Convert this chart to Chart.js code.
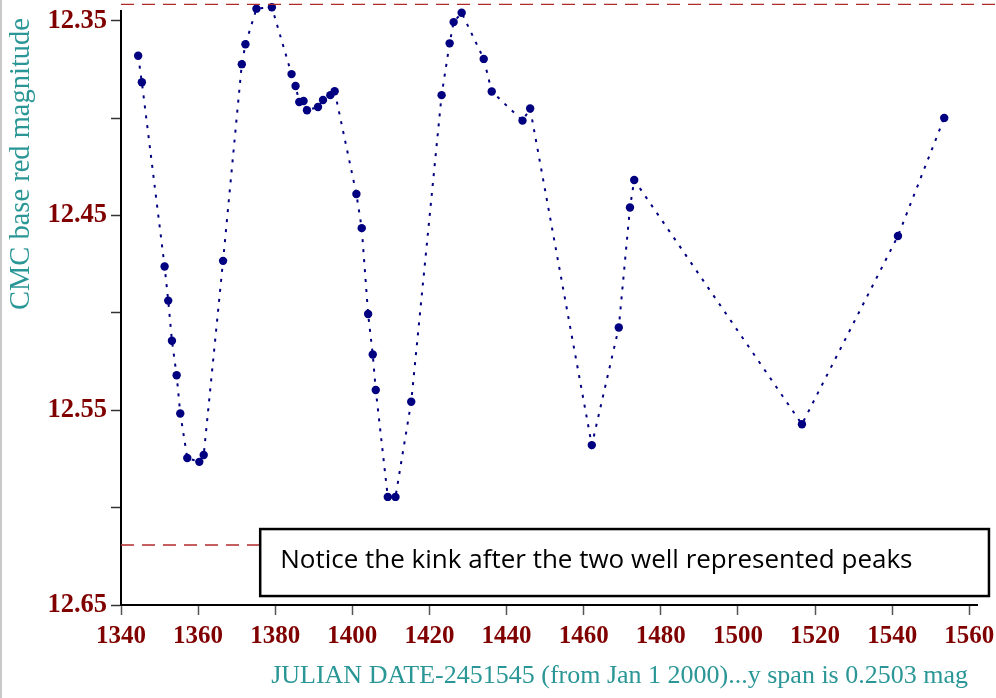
<!DOCTYPE html>
<html>
<head>
<meta charset="utf-8">
<script src="https://cdn.jsdelivr.net/npm/chart.js@4.4.1/dist/chart.umd.min.js"></script>
<style>
  html, body { margin: 0; padding: 0; background: #fff; }
  canvas { display: block; }
</style>
</head>
<body>
<canvas id="chart" width="996" height="698"></canvas>
<script>
// Julian date - 2451545 and CMC base red magnitude
var julianDate = [
  1344.45, 1345.41, 1351.31, 1352.25, 1353.21, 1354.43, 1355.37, 1357.19, 1360.31, 1361.45,
  1366.47, 1371.33, 1372.27, 1375.13, 1379.13, 1384.23, 1385.27, 1386.23, 1387.35, 1388.23,
  1391.09, 1392.39, 1394.29, 1395.41, 1401.05, 1402.43, 1404.09, 1405.29, 1406.07, 1409.19,
  1411.19, 1415.27, 1423.15, 1425.23, 1426.27, 1428.35, 1434.07, 1436.15, 1444.13, 1446.11,
  1462.1, 1469.1, 1472.0, 1473.1, 1516.6, 1541.5, 1553.5
];
var magnitude = [
  12.3680, 12.3816, 12.4762, 12.4937, 12.5143, 12.5320, 12.5517, 12.5745, 12.5765, 12.5730,
  12.4733, 12.3723, 12.3621, 12.3438, 12.3431, 12.3774, 12.3835, 12.3917, 12.3912, 12.3960,
  12.3943, 12.3907, 12.3882, 12.3862, 12.4390, 12.4565, 12.5006, 12.5214, 12.5396, 12.5945,
  12.5945, 12.5456, 12.3882, 12.3616, 12.3507, 12.3459, 12.3696, 12.3863, 12.4013, 12.3951,
  12.5679, 12.5075, 12.4459, 12.4318, 12.5572, 12.4605, 12.3999
];

// red dashed envelope lines
var upperLimit = 12.3416;
var lowerLimit = 12.6192;

var xTitle = "JULIAN DATE-2451545 (from Jan 1 2000)...y span is 0.2503 mag";
var yTitle = "CMC base red magnitude";
var noteText = "Notice the kink after the two well represented peaks";

var serif = "'Liberation Serif', 'DejaVu Serif', serif";
var labelRed = "#800000";
var teal = "#2a9696";

var points = julianDate.map(function (d, i) {
  return { x: d, y: magnitude[i] };
});

// axis titles, note box and the thin frame edge on the left
var extras = {
  id: "extras",
  afterDatasetsDraw: function (chart) {
    var ctx = chart.ctx;
    var xs = chart.scales.x;
    var ys = chart.scales.y;
    var left = xs.getPixelForValue(1376.1);
    var right = xs.getPixelForValue(1565.1);
    var top = ys.getPixelForValue(12.611);
    var bottom = ys.getPixelForValue(12.6454);
    ctx.save();
    ctx.fillStyle = "#fff";
    ctx.fillRect(left, top, right - left, bottom - top);
    ctx.strokeStyle = "#000";
    ctx.lineWidth = 2.5;
    ctx.strokeRect(left, top, right - left, bottom - top);
    ctx.fillStyle = "#000";
    ctx.font = "26px 'Open Sans', 'Noto Sans', sans-serif";
    ctx.textBaseline = "alphabetic";
    ctx.textAlign = "left";
    ctx.fillText(noteText, left + 20, bottom - 28);
    ctx.restore();

    // y title
    ctx.save();
    ctx.translate(22, 18);
    ctx.rotate(-Math.PI / 2);
    ctx.fillStyle = teal;
    ctx.font = "28.5px " + serif;
    ctx.textAlign = "right";
    ctx.textBaseline = "middle";
    ctx.fillText(yTitle, 0, 0);
    ctx.restore();

    // x title
    ctx.save();
    ctx.fillStyle = teal;
    ctx.font = "26px " + serif;
    ctx.textAlign = "right";
    ctx.textBaseline = "alphabetic";
    ctx.fillText(xTitle, xs.right - 9, chart.height - 15);
    ctx.restore();

    ctx.save();
    ctx.strokeStyle = "#c8c8c8";
    ctx.lineWidth = 2;
    ctx.beginPath();
    ctx.moveTo(1, 0);
    ctx.lineTo(1, chart.height);
    ctx.stroke();
    ctx.restore();
  }
};

var ctx = document.getElementById("chart").getContext("2d");
var chart = new Chart(ctx, {
  type: "scatter",
  data: {
    datasets: [
      {
        data: [{ x: 1340, y: upperLimit }, { x: 1572, y: upperLimit }],
        showLine: true,
        borderColor: "#b22a2a",
        borderWidth: 1.3,
        borderDash: [13, 8],
        pointRadius: 0,
        clip: false
      },
      {
        data: [{ x: 1340, y: lowerLimit }, { x: 1480, y: lowerLimit }],
        showLine: true,
        borderColor: "#b22a2a",
        borderWidth: 1.3,
        borderDash: [13, 8],
        pointRadius: 0,
        clip: false
      },
      {
        data: points,
        showLine: true,
        borderColor: "#000080",
        borderWidth: 2,
        borderDash: [3, 7],
        pointRadius: 4.2,
        pointBackgroundColor: "#000080",
        pointBorderWidth: 0,
        clip: false
      }
    ]
  },
  options: {
    responsive: false,
    animation: false,
    layout: { padding: { top: 11, right: 19, left: 0, bottom: 0 } },
    plugins: {
      legend: { display: false },
      tooltip: { enabled: false }
    },
    scales: {
      x: {
        type: "linear",
        min: 1340,
        max: 1562,
        border: { color: "#000", width: 2 },
        grid: { drawOnChartArea: false, tickLength: 10, tickColor: "#555", tickWidth: 1.5 },
        ticks: {
          stepSize: 20,
          includeBounds: false,
          autoSkip: false,
          maxRotation: 0,
          padding: 7,
          color: labelRed,
          font: { family: serif, size: 25, weight: "bold" },
          callback: function (v) { return String(v); }
        },
        title: { display: false },
        afterFit: function (scale) {
          scale.height = 93;
          scale.paddingLeft = 0;
          scale.paddingRight = 0;
        }
      },
      y: {
        type: "linear",
        reverse: true,
        min: 12.345,
        max: 12.65,
        border: { color: "#000", width: 2 },
        grid: { drawOnChartArea: false, tickLength: 10, tickColor: "#333", tickWidth: 1.5 },
        ticks: {
          stepSize: 0.05,
          includeBounds: false,
          autoSkip: false,
          padding: 4,
          color: labelRed,
          font: { family: serif, size: 26.5, weight: "bold" },
          callback: function (v) {
            return Math.round(v * 100) % 10 === 5 ? v.toFixed(2) : "";
          }
        },
        title: { display: false },
        afterFit: function (scale) {
          scale.width = 121;
          scale.paddingTop = 0;
          scale.paddingBottom = 0;
        }
      }
    }
  },
  plugins: [extras]
});
</script>
</body>
</html>
